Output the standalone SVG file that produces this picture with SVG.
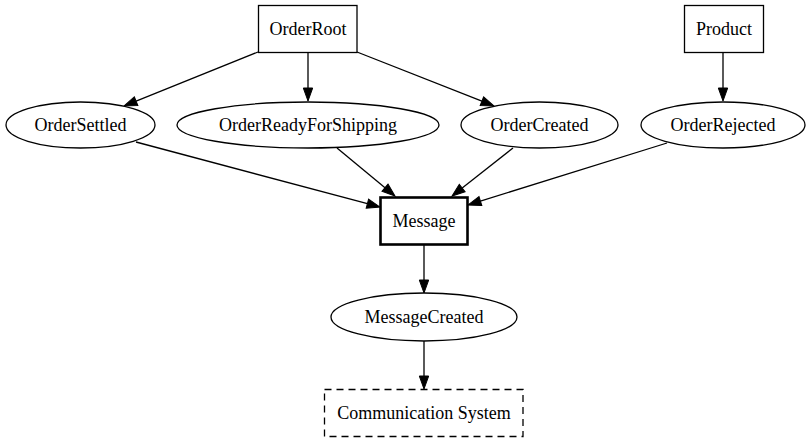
<svg xmlns="http://www.w3.org/2000/svg" width="812" height="443" viewBox="0 0 812 443">
<style>
.n{fill:#fff;stroke:#000;stroke-width:1.3}
.b{stroke-width:2.6}
.d{stroke-dasharray:7,5}
text{font-family:"Liberation Serif","Times New Roman",serif;font-size:18px;text-anchor:middle;fill:#000}
.e{stroke:#000;stroke-width:1.3;fill:none;marker-end:url(#a)}
</style>
<defs>
<marker id="a" markerUnits="userSpaceOnUse" markerWidth="14" markerHeight="10" refX="0" refY="4.7" orient="auto" overflow="visible">
<path d="M0,0 L13,4.7 L0,9.4 z" fill="#000" stroke="#000" stroke-width="1"/>
</marker>
</defs>
<rect width="812" height="443" fill="#fff"/>
<g id="edges">
<line class="e" x1="258" y1="52" x2="136.1" y2="101.1"/>
<line class="e" x1="308" y1="53" x2="308" y2="88"/>
<line class="e" x1="357" y1="52" x2="481.9" y2="101.2"/>
<line class="e" x1="723" y1="53" x2="723" y2="88"/>
<line class="e" x1="136" y1="142" x2="367.4" y2="203.7"/>
<line class="e" x1="337" y1="148" x2="385" y2="187.7"/>
<line class="e" x1="513" y1="148" x2="462.2" y2="188"/>
<line class="e" x1="667" y1="143" x2="480.4" y2="201.1"/>
<line class="e" x1="424" y1="245" x2="424" y2="280"/>
<line class="e" x1="424" y1="341" x2="424" y2="376"/>
</g>
<g id="OrderRoot"><rect class="n" x="258.5" y="5.5" width="98.5" height="47"/><text x="308" y="34.5">OrderRoot</text></g>
<g id="Product"><rect class="n" x="684.5" y="5.5" width="79" height="47"/><text x="724" y="34.5">Product</text></g>
<g id="OrderSettled"><ellipse class="n" cx="80.5" cy="125" rx="74.5" ry="23"/><text x="80.5" y="131">OrderSettled</text></g>
<g id="OrderReadyForShipping"><ellipse class="n" cx="308" cy="125" rx="131" ry="23"/><text x="308" y="131">OrderReadyForShipping</text></g>
<g id="OrderCreated"><ellipse class="n" cx="539.5" cy="125" rx="78.5" ry="23"/><text x="539.5" y="131">OrderCreated</text></g>
<g id="OrderRejected"><ellipse class="n" cx="723" cy="125" rx="82" ry="23"/><text x="723" y="131">OrderRejected</text></g>
<g id="Message"><rect class="n b" x="380.5" y="197.5" width="87" height="47"/><text x="424" y="227">Message</text></g>
<g id="MessageCreated"><ellipse class="n" cx="424" cy="317" rx="93" ry="24"/><text x="424" y="323">MessageCreated</text></g>
<g id="CommunicationSystem"><rect class="n d" x="324.5" y="389.5" width="198.5" height="47"/><text x="424" y="418.5">Communication System</text></g>
</svg>
